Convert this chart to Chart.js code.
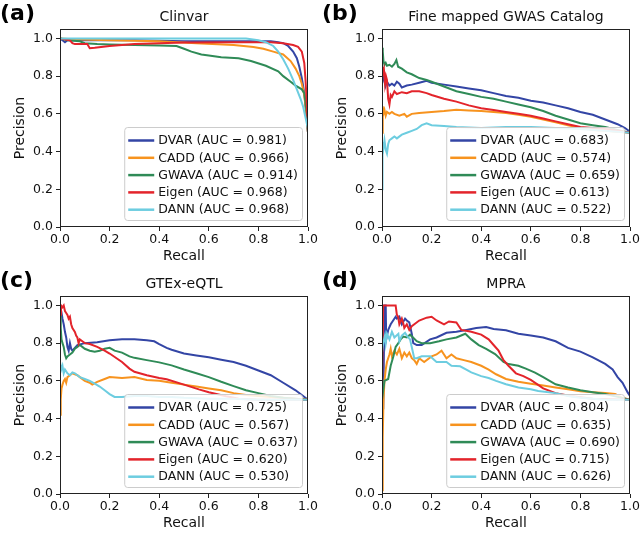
<!DOCTYPE html>
<html><head><meta charset="utf-8">
<script src="https://cdn.jsdelivr.net/npm/chart.js@4.4.1/dist/chart.umd.min.js"></script>
<style>
html,body{margin:0;padding:0;background:#fff;}
#wrap{position:relative;width:643px;height:534px;background:#fff;}
canvas{position:absolute;}
</style></head><body>
<div id="wrap">
<canvas id="ca" width="322" height="267" style="left:0;top:0;width:322px;height:267px"></canvas>
<canvas id="cb" width="321" height="267" style="left:322px;top:0;width:321px;height:267px"></canvas>
<canvas id="cc" width="322" height="267" style="left:0;top:267px;width:322px;height:267px"></canvas>
<canvas id="cd" width="321" height="267" style="left:322px;top:267px;width:321px;height:267px"></canvas>
</div>
<script>
// ---------- labels & ticks ----------
const methods = ['DVAR', 'CADD', 'GWAVA', 'Eigen', 'DANN'];
const panelLetters = ['(a)', '(b)', '(c)', '(d)'];
const panelTitles = ['Clinvar', 'Fine mapped GWAS Catalog', 'GTEx-eQTL', 'MPRA'];
const xAxisTitle = 'Recall';
const yAxisTitle = 'Precision';
const tickValues = [0.0, 0.2, 0.4, 0.6, 0.8, 1.0];
const tickLabels = ['0.0', '0.2', '0.4', '0.6', '0.8', '1.0'];

// ---------- AUC values ----------
const aucClinvar = [0.981, 0.966, 0.914, 0.968, 0.968];
const aucGwas    = [0.683, 0.574, 0.659, 0.613, 0.522];
const aucGtex    = [0.725, 0.567, 0.637, 0.620, 0.530];
const aucMpra    = [0.804, 0.635, 0.690, 0.715, 0.626];

// ---------- (a) Clinvar curves: [recall, precision] ----------
const clinvarDVAR = [[0,1.0],[0.01,0.99],[0.02,0.98],[0.03,0.99],[0.1,0.99],[0.3,0.99],[0.5,0.985],[0.7,0.985],[0.85,0.985],[0.88,0.98],[0.9,0.975],[0.92,0.96],[0.94,0.93],[0.955,0.895],[0.965,0.85],[0.975,0.79],[0.985,0.71],[0.99,0.64],[0.995,0.58],[1.0,0.5]];
const clinvarCADD = [[0,1.0],[0.05,0.995],[0.2,0.99],[0.4,0.985],[0.55,0.975],[0.7,0.965],[0.78,0.955],[0.82,0.945],[0.86,0.93],[0.9,0.915],[0.93,0.88],[0.95,0.84],[0.965,0.8],[0.975,0.76],[0.985,0.7],[0.99,0.64],[0.995,0.58],[1.0,0.5]];
const clinvarGWAVA = [[0,1.0],[0.03,0.99],[0.08,0.985],[0.1,0.975],[0.15,0.97],[0.2,0.968],[0.3,0.965],[0.4,0.962],[0.47,0.96],[0.5,0.945],[0.53,0.93],[0.57,0.915],[0.6,0.91],[0.65,0.9],[0.72,0.895],[0.77,0.88],[0.83,0.855],[0.88,0.826],[0.9,0.8],[0.93,0.77],[0.95,0.75],[0.975,0.73],[0.985,0.71],[0.99,0.66],[0.995,0.6],[1.0,0.5]];
const clinvarEigen = [[0,1.0],[0.04,0.99],[0.05,0.975],[0.06,0.97],[0.11,0.97],[0.12,0.948],[0.14,0.95],[0.2,0.96],[0.3,0.97],[0.4,0.975],[0.5,0.978],[0.7,0.98],[0.85,0.98],[0.9,0.975],[0.94,0.965],[0.96,0.955],[0.975,0.93],[0.985,0.87],[0.99,0.78],[0.995,0.66],[1.0,0.5]];
const clinvarDANN = [[0,1.0],[0.3,1.0],[0.6,1.0],[0.75,1.0],[0.8,0.99],[0.83,0.98],[0.86,0.96],[0.88,0.93],[0.9,0.89],[0.92,0.84],[0.94,0.78],[0.955,0.73],[0.97,0.68],[0.98,0.64],[0.99,0.58],[1.0,0.52]];

// ---------- (b) Fine mapped GWAS Catalog ----------
const gwasDVAR = [[0.002,0.85],[0.005,0.78],[0.01,0.8],[0.015,0.75],[0.02,0.77],[0.03,0.75],[0.04,0.76],[0.05,0.75],[0.06,0.77],[0.07,0.76],[0.08,0.74],[0.1,0.75],[0.12,0.755],[0.15,0.765],[0.18,0.775],[0.2,0.765],[0.25,0.755],[0.3,0.745],[0.35,0.735],[0.4,0.725],[0.45,0.71],[0.5,0.695],[0.55,0.685],[0.6,0.67],[0.65,0.66],[0.7,0.645],[0.75,0.63],[0.8,0.61],[0.85,0.595],[0.9,0.57],[0.95,0.545],[0.98,0.525],[1.0,0.505]];
const gwasCADD = [[0,0.5],[0.002,0.6],[0.004,0.64],[0.006,0.6],[0.01,0.62],[0.015,0.59],[0.02,0.61],[0.03,0.6],[0.04,0.61],[0.05,0.6],[0.07,0.59],[0.09,0.6],[0.1,0.585],[0.12,0.6],[0.15,0.605],[0.2,0.61],[0.25,0.615],[0.3,0.622],[0.35,0.618],[0.4,0.615],[0.45,0.61],[0.5,0.605],[0.55,0.595],[0.6,0.585],[0.65,0.57],[0.7,0.555],[0.75,0.54],[0.8,0.525],[0.85,0.515],[0.9,0.51],[0.95,0.505],[1.0,0.5]];
const gwasGWAVA = [[0,0.95],[0.003,0.93],[0.006,0.88],[0.01,0.86],[0.015,0.87],[0.02,0.855],[0.03,0.86],[0.04,0.85],[0.05,0.865],[0.058,0.885],[0.065,0.85],[0.08,0.84],[0.1,0.82],[0.12,0.81],[0.15,0.79],[0.18,0.78],[0.2,0.77],[0.25,0.745],[0.3,0.72],[0.35,0.705],[0.4,0.69],[0.45,0.68],[0.5,0.665],[0.55,0.65],[0.6,0.635],[0.65,0.615],[0.7,0.59],[0.75,0.57],[0.8,0.55],[0.85,0.54],[0.9,0.53],[0.95,0.515],[1.0,0.5]];
const gwasEigen = [[0,0.85],[0.004,0.8],[0.008,0.83],[0.012,0.76],[0.016,0.8],[0.02,0.78],[0.025,0.68],[0.03,0.65],[0.035,0.7],[0.04,0.69],[0.05,0.72],[0.06,0.705],[0.08,0.715],[0.1,0.71],[0.12,0.72],[0.15,0.72],[0.18,0.71],[0.2,0.7],[0.25,0.68],[0.3,0.665],[0.35,0.645],[0.4,0.63],[0.45,0.62],[0.5,0.61],[0.55,0.6],[0.6,0.59],[0.65,0.575],[0.7,0.56],[0.75,0.545],[0.8,0.53],[0.85,0.525],[0.9,0.52],[0.95,0.51],[1.0,0.5]];
const gwasDANN = [[0,0.2],[0.001,0.3],[0.003,0.45],[0.006,0.42],[0.01,0.46],[0.015,0.41],[0.02,0.39],[0.025,0.44],[0.03,0.46],[0.04,0.47],[0.05,0.48],[0.06,0.47],[0.08,0.49],[0.1,0.5],[0.12,0.51],[0.14,0.52],[0.16,0.54],[0.18,0.55],[0.2,0.54],[0.25,0.535],[0.3,0.53],[0.4,0.525],[0.5,0.53],[0.6,0.53],[0.7,0.525],[0.8,0.52],[0.9,0.51],[1.0,0.5]];

// ---------- (c) GTEx-eQTL ----------
const gtexDVAR = [[0,1.0],[0.005,0.97],[0.01,0.93],[0.015,0.9],[0.02,0.86],[0.025,0.83],[0.03,0.78],[0.035,0.76],[0.04,0.8],[0.045,0.77],[0.05,0.76],[0.07,0.79],[0.1,0.8],[0.15,0.805],[0.2,0.815],[0.25,0.82],[0.3,0.82],[0.35,0.815],[0.38,0.81],[0.4,0.795],[0.43,0.775],[0.45,0.765],[0.5,0.745],[0.55,0.735],[0.6,0.725],[0.65,0.712],[0.7,0.7],[0.75,0.68],[0.8,0.655],[0.85,0.63],[0.9,0.59],[0.95,0.55],[1.0,0.5]];
const gtexCADD = [[0,0.42],[0.003,0.5],[0.006,0.56],[0.01,0.58],[0.015,0.6],[0.02,0.61],[0.025,0.59],[0.03,0.62],[0.04,0.63],[0.05,0.64],[0.06,0.635],[0.07,0.63],[0.08,0.62],[0.1,0.6],[0.12,0.59],[0.13,0.58],[0.15,0.595],[0.18,0.61],[0.2,0.62],[0.25,0.615],[0.3,0.62],[0.35,0.605],[0.4,0.6],[0.45,0.59],[0.5,0.58],[0.55,0.57],[0.6,0.56],[0.65,0.55],[0.7,0.535],[0.75,0.525],[0.8,0.52],[0.85,0.515],[0.9,0.51],[1.0,0.5]];
const gtexGWAVA = [[0,0.95],[0.003,0.88],[0.006,0.82],[0.01,0.8],[0.015,0.78],[0.02,0.74],[0.025,0.72],[0.03,0.73],[0.04,0.74],[0.05,0.75],[0.06,0.77],[0.07,0.78],[0.08,0.79],[0.09,0.78],[0.1,0.77],[0.12,0.76],[0.14,0.755],[0.16,0.76],[0.18,0.77],[0.2,0.775],[0.22,0.76],[0.25,0.75],[0.28,0.73],[0.3,0.722],[0.35,0.71],[0.4,0.698],[0.45,0.682],[0.5,0.66],[0.55,0.64],[0.6,0.62],[0.65,0.595],[0.7,0.572],[0.75,0.55],[0.8,0.535],[0.85,0.52],[0.9,0.51],[1.0,0.5]];
const gtexEigen = [[0,0.95],[0.004,1.0],[0.01,0.99],[0.015,1.0],[0.02,0.97],[0.025,0.96],[0.03,0.95],[0.035,0.93],[0.04,0.94],[0.045,0.9],[0.05,0.88],[0.06,0.86],[0.065,0.84],[0.07,0.83],[0.075,0.8],[0.08,0.82],[0.09,0.81],[0.1,0.8],[0.12,0.795],[0.15,0.78],[0.18,0.76],[0.2,0.745],[0.25,0.7],[0.28,0.665],[0.3,0.648],[0.35,0.63],[0.4,0.615],[0.43,0.608],[0.5,0.58],[0.56,0.555],[0.6,0.54],[0.67,0.518],[0.72,0.505],[0.8,0.5],[1.0,0.5]];
const gtexDANN = [[0,0.7],[0.005,0.66],[0.01,0.68],[0.015,0.64],[0.02,0.66],[0.03,0.64],[0.04,0.63],[0.05,0.645],[0.06,0.64],[0.07,0.63],[0.08,0.62],[0.1,0.61],[0.12,0.6],[0.14,0.585],[0.16,0.57],[0.18,0.55],[0.2,0.53],[0.22,0.515],[0.25,0.515],[0.3,0.52],[0.35,0.52],[0.4,0.515],[0.45,0.515],[0.5,0.51],[0.6,0.505],[0.7,0.505],[0.8,0.5],[1.0,0.5]];

// ---------- (d) MPRA ----------
const mpraDVAR = [[0.005,0.45],[0.01,1.0],[0.015,1.0],[0.017,0.82],[0.025,0.87],[0.035,0.9],[0.045,0.92],[0.055,0.94],[0.06,0.93],[0.07,0.94],[0.08,0.9],[0.093,0.93],[0.1,0.92],[0.11,0.91],[0.12,0.85],[0.126,0.8],[0.14,0.79],[0.16,0.79],[0.194,0.82],[0.22,0.83],[0.26,0.855],[0.3,0.86],[0.34,0.87],[0.38,0.88],[0.42,0.885],[0.45,0.875],[0.5,0.868],[0.55,0.85],[0.6,0.84],[0.65,0.83],[0.7,0.81],[0.75,0.775],[0.8,0.755],[0.85,0.725],[0.9,0.69],[0.93,0.66],[0.95,0.62],[0.97,0.59],[0.99,0.54],[1.0,0.52]];
const mpraCADD = [[0,0.02],[0.003,0.3],[0.006,0.5],[0.01,0.6],[0.015,0.66],[0.02,0.7],[0.03,0.74],[0.035,0.77],[0.04,0.73],[0.05,0.76],[0.06,0.74],[0.07,0.77],[0.08,0.72],[0.09,0.75],[0.1,0.73],[0.11,0.75],[0.12,0.72],[0.13,0.71],[0.14,0.69],[0.15,0.72],[0.17,0.7],[0.2,0.73],[0.22,0.74],[0.24,0.76],[0.26,0.72],[0.28,0.74],[0.3,0.72],[0.33,0.71],[0.36,0.7],[0.4,0.68],[0.43,0.66],[0.46,0.635],[0.5,0.61],[0.55,0.595],[0.6,0.585],[0.65,0.575],[0.7,0.565],[0.75,0.555],[0.8,0.545],[0.85,0.54],[0.9,0.535],[0.94,0.53],[0.97,0.51],[1.0,0.5]];
const mpraGWAVA = [[0,0.5],[0.005,0.55],[0.01,0.6],[0.025,0.61],[0.035,0.68],[0.046,0.73],[0.055,0.78],[0.066,0.8],[0.075,0.82],[0.086,0.835],[0.1,0.83],[0.113,0.845],[0.125,0.83],[0.14,0.81],[0.16,0.8],[0.194,0.8],[0.23,0.81],[0.26,0.82],[0.3,0.83],[0.336,0.85],[0.36,0.82],[0.39,0.79],[0.42,0.77],[0.456,0.742],[0.49,0.7],[0.51,0.689],[0.55,0.68],[0.58,0.665],[0.617,0.644],[0.65,0.62],[0.7,0.582],[0.75,0.565],[0.8,0.55],[0.85,0.54],[0.9,0.53],[0.95,0.515],[1.0,0.5]];
const mpraEigen = [[0,0.6],[0.005,1.0],[0.055,1.0],[0.06,0.95],[0.065,0.94],[0.07,0.9],[0.08,0.93],[0.085,0.91],[0.09,0.88],[0.1,0.9],[0.11,0.87],[0.12,0.89],[0.15,0.92],[0.18,0.935],[0.2,0.94],[0.22,0.92],[0.25,0.9],[0.27,0.915],[0.3,0.91],[0.32,0.87],[0.36,0.86],[0.4,0.845],[0.43,0.82],[0.45,0.79],[0.47,0.76],[0.49,0.71],[0.51,0.68],[0.54,0.64],[0.57,0.625],[0.6,0.605],[0.65,0.56],[0.7,0.535],[0.76,0.52],[0.85,0.505],[1.0,0.5]];
const mpraDANN = [[0,0.75],[0.005,0.8],[0.012,0.84],[0.015,0.8],[0.02,0.85],[0.03,0.82],[0.04,0.86],[0.05,0.83],[0.066,0.85],[0.07,0.81],[0.08,0.84],[0.093,0.855],[0.1,0.84],[0.113,0.82],[0.12,0.78],[0.13,0.72],[0.14,0.72],[0.16,0.73],[0.194,0.73],[0.22,0.7],[0.26,0.7],[0.28,0.68],[0.315,0.677],[0.34,0.66],[0.36,0.645],[0.4,0.625],[0.43,0.615],[0.46,0.6],[0.5,0.582],[0.55,0.565],[0.6,0.555],[0.63,0.546],[0.7,0.535],[0.75,0.52],[0.8,0.51],[0.9,0.5],[1.0,0.5]];

// ---------- styles ----------
const seriesColors = ['#3345a5', '#f7931e', '#2f8b57', '#e3242b', '#6dcde0'];

const panels = [
  { id: 'ca', letter: panelLetters[0], title: panelTitles[0], auc: aucClinvar, curves: [clinvarDVAR, clinvarCADD, clinvarGWAVA, clinvarEigen, clinvarDANN], right: 14 },
  { id: 'cb', letter: panelLetters[1], title: panelTitles[1], auc: aucGwas, curves: [gwasDVAR, gwasCADD, gwasGWAVA, gwasEigen, gwasDANN], right: 13 },
  { id: 'cc', letter: panelLetters[2], title: panelTitles[2], auc: aucGtex, curves: [gtexDVAR, gtexCADD, gtexGWAVA, gtexEigen, gtexDANN], right: 14 },
  { id: 'cd', letter: panelLetters[3], title: panelTitles[3], auc: aucMpra, curves: [mpraDVAR, mpraCADD, mpraGWAVA, mpraEigen, mpraDANN], right: 13 }
];

Chart.defaults.font.family = '"DejaVu Sans", sans-serif';
Chart.defaults.color = '#111';

const decor = {
  id: 'decor',
  afterDatasetsDraw(chart, args, opts) {
    const ctx = chart.ctx, a = chart.chartArea;
    ctx.save();
    // frame
    ctx.strokeStyle = '#222';
    ctx.lineWidth = 1;
    ctx.strokeRect(Math.round(a.left) + 0.5, Math.round(a.top) + 0.5, Math.round(a.right - a.left) - 1, Math.round(a.bottom - a.top) - 1);
    // legend
    ctx.font = '12.5px "DejaVu Sans", sans-serif';
    const ds = chart.data.datasets;
    const W = Math.max(...ds.map(d => ctx.measureText(d.label).width));
    const right = a.right - 6, bottom = a.bottom - 7, top = bottom - 93;
    const left = right - (W + 38);
    ctx.beginPath();
    if (ctx.roundRect) ctx.roundRect(left + 0.5, top + 0.5, right - left, bottom - top, 3);
    else ctx.rect(left + 0.5, top + 0.5, right - left, bottom - top);
    ctx.fillStyle = 'rgba(255,255,255,0.85)';
    ctx.fill();
    ctx.strokeStyle = '#cccccc';
    ctx.stroke();
    ctx.textBaseline = 'middle';
    ctx.textAlign = 'left';
    ds.forEach((d, i) => {
      const y = top + 13.5 + i * 17.3;
      ctx.strokeStyle = d.borderColor;
      ctx.lineWidth = 2.5;
      ctx.beginPath();
      ctx.moveTo(left + 4, y);
      ctx.lineTo(left + 30, y);
      ctx.stroke();
      ctx.fillStyle = '#111';
      ctx.fillText(d.label, left + 34, y + 0.5);
    });
    // panel title, centred on the plot area
    ctx.font = '14px "DejaVu Sans", sans-serif';
    ctx.fillStyle = '#111';
    ctx.textAlign = 'center';
    ctx.textBaseline = 'middle';
    ctx.fillText(opts.title, (a.left + a.right) / 2, 17.5);
    // panel letter
    ctx.font = 'bold 22px "DejaVu Sans", sans-serif';
    ctx.fillStyle = '#000';
    ctx.textAlign = 'left';
    ctx.fillText(opts.letter, 0, 14);
    ctx.restore();
  }
};

panels.forEach(p => {
  const datasets = p.curves.map((c, i) => ({
    label: methods[i] + ' (AUC = ' + p.auc[i].toFixed(3) + ')',
    data: c.map(([x, y]) => ({ x, y })),
    borderColor: seriesColors[i],
    backgroundColor: seriesColors[i],
    borderWidth: 2,
    pointRadius: 0,
    tension: 0,
    fill: false,
    order: methods.length - i
  }));
  new Chart(document.getElementById(p.id), {
    type: 'line',
    data: { datasets },
    options: {
      responsive: false,
      animation: false,
      events: [],
      layout: { padding: { left: 0, right: p.right, top: 29, bottom: 0 } },
      plugins: {
        legend: { display: false },
        tooltip: { enabled: false },
        title: { display: false },
        decor: { letter: p.letter, title: p.title }
      },
      scales: {
        x: {
          type: 'linear', min: 0, max: 1,
          afterBuildTicks: s => { s.ticks = tickValues.map(v => ({ value: v })); },
          afterFit: s => { s.height = 40; },
          ticks: { font: { size: 12.5 }, color: '#111', padding: 1, maxRotation: 0, callback: (v, i) => tickLabels[i] },
          grid: { drawOnChartArea: false, drawTicks: true, tickLength: 4, tickColor: '#222' },
          border: { display: false },
          title: { display: true, text: xAxisTitle, font: { size: 14 }, color: '#111', padding: { top: 0, bottom: 2 } }
        },
        y: {
          type: 'linear', min: 0, max: 1.05,
          afterBuildTicks: s => { s.ticks = tickValues.map(v => ({ value: v })); },
          afterFit: s => { s.width = 60; },
          ticks: { font: { size: 12.5 }, color: '#111', padding: 3, callback: (v, i) => tickLabels[i] },
          grid: { drawOnChartArea: false, drawTicks: true, tickLength: 4, tickColor: '#222' },
          border: { display: false },
          title: { display: true, text: yAxisTitle, font: { size: 14 }, color: '#111', padding: { top: 12, bottom: 0 } }
        }
      }
    },
    plugins: [decor]
  });
});
</script>
</body></html>
